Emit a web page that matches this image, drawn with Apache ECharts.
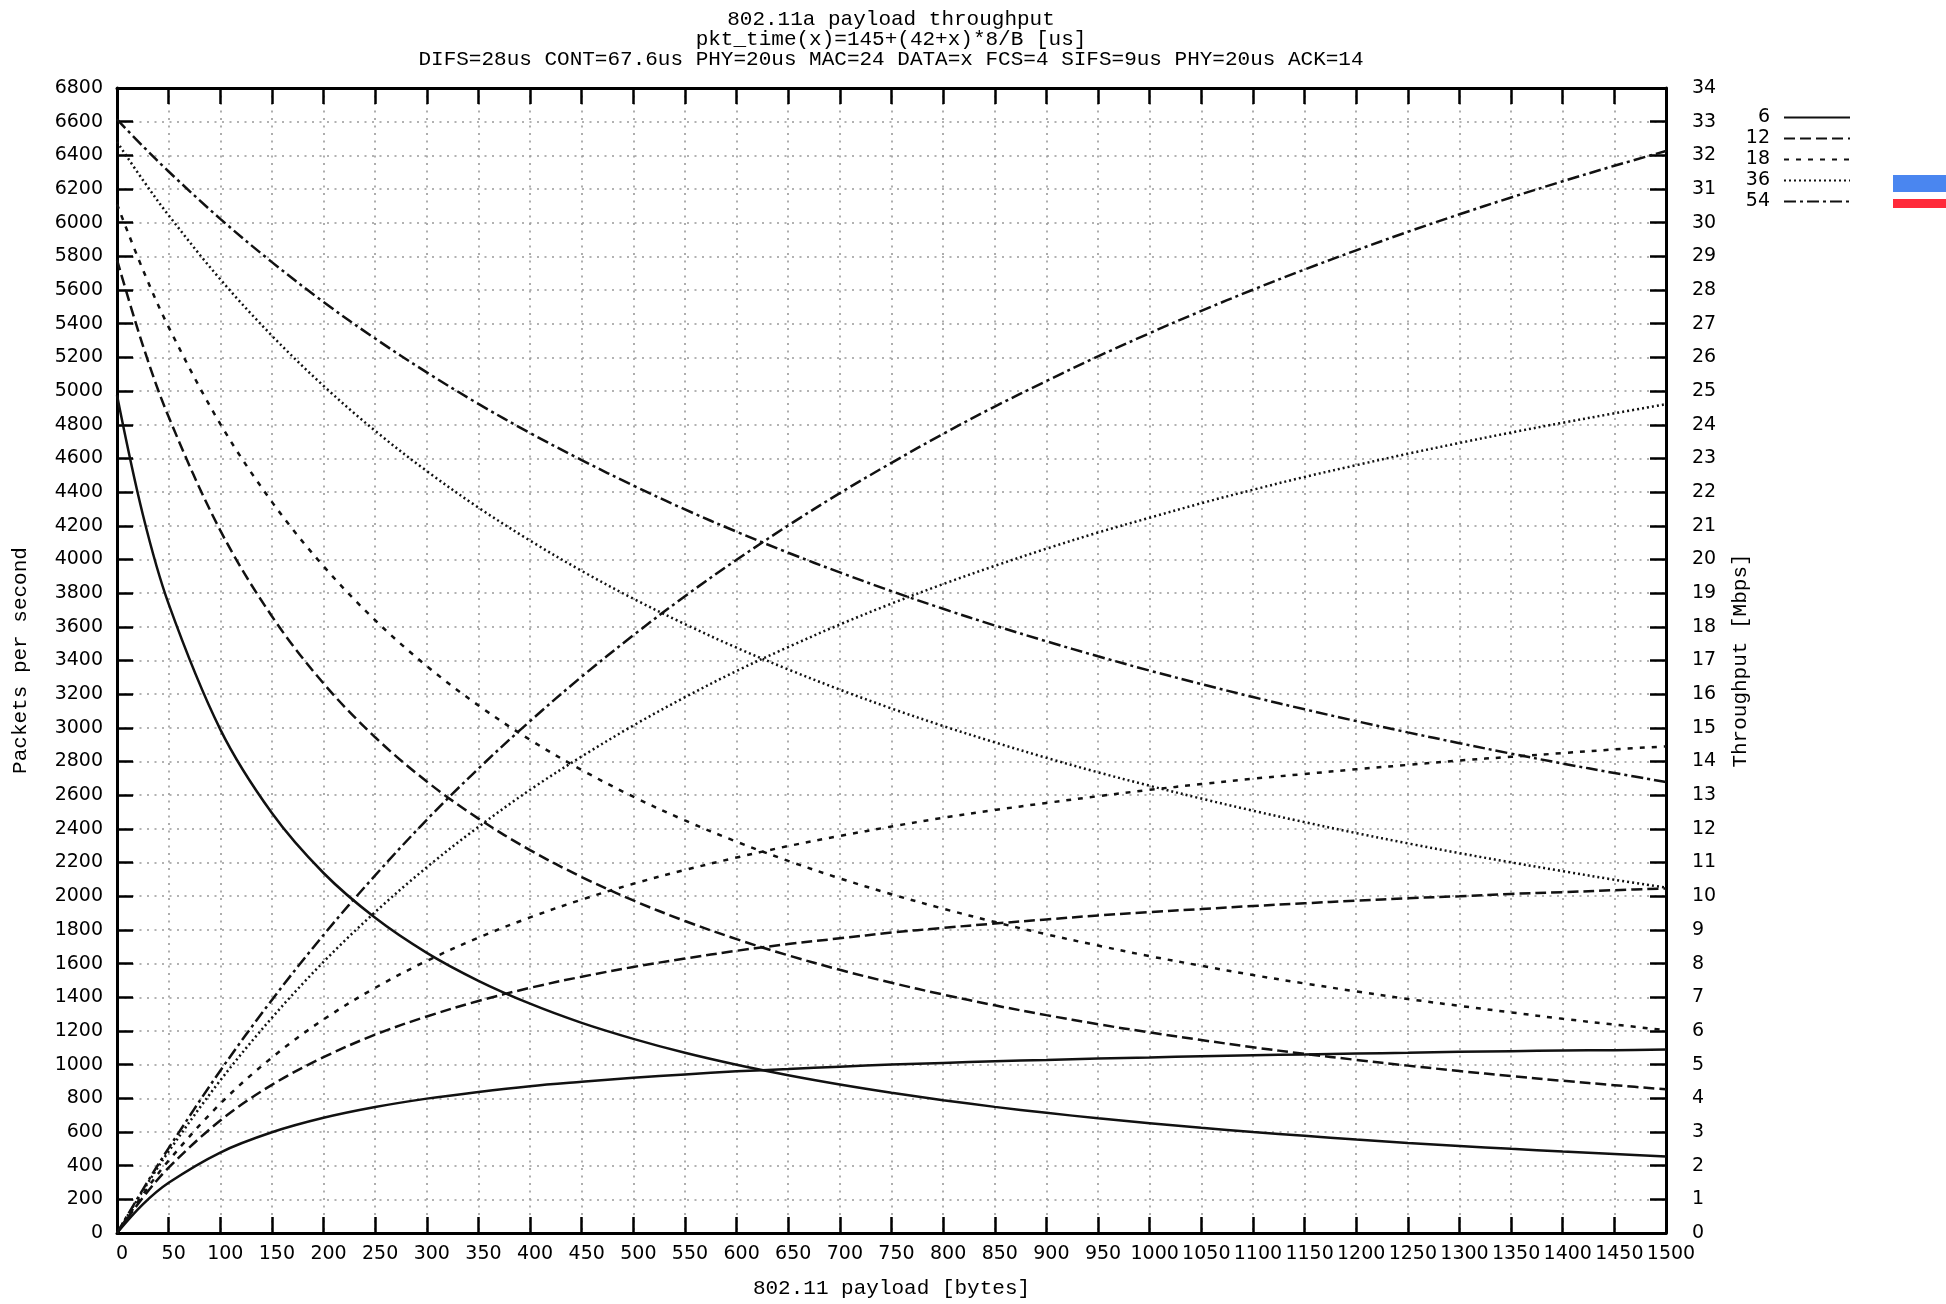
<!DOCTYPE html>
<html><head><meta charset="utf-8">
<script src="https://cdn.jsdelivr.net/npm/echarts@6/dist/echarts.min.js"></script>
<style>html,body{margin:0;padding:0;background:#fff}#c{width:1946px;height:1304px}</style>
</head><body><div id="c"></div>
<script>
// payload size in bytes (x axis)
const payloadBytes = [0,25,50,100,150,200,250,300,350,400,450,500,550,600,650,700,750,800,850,900,950,1000,1050,1100,1150,1200,1250,1300,1350,1400,1450,1500];
const rates = ['6','12','18','36','54'];
// packets per second (left axis)
const pps6  = [4975,4267,3736,2991,2494,2138,1872,1664,1498,1362,1248,1153,1070,999,937,882,833,789,749,714,681,652,625,600,577,555,535,517,500,484,469,454];
const pps12 = [5780,5272,4847,4173,3663,3264,2944,2681,2461,2274,2114,1975,1853,1745,1649,1563,1486,1416,1352,1294,1240,1191,1146,1103,1064,1028,994,962,932,904,878,853];
const pps18 = [6110,5722,5380,4805,4342,3960,3639,3367,3133,2929,2750,2591,2450,2324,2210,2106,2012,1926,1847,1774,1707,1644,1587,1532,1482,1435,1390,1349,1310,1272,1238,1204];
const pps36 = [6480,6254,6044,5664,5329,5031,4764,4525,4308,4112,3932,3767,3616,3476,3347,3227,3115,3011,2914,2822,2736,2656,2580,2508,2440,2375,2314,2256,2201,2149,2098,2051];
const pps54 = [6613,6455,6304,6023,5766,5529,5312,5111,4924,4751,4590,4439,4297,4165,4040,3923,3812,3707,3608,3514,3425,3340,3260,3183,3110,3040,2973,2909,2847,2788,2732,2678];
// throughput in Mbps (right axis)
const thr6  = [0,0.85,1.49,2.39,2.99,3.42,3.74,3.99,4.19,4.36,4.49,4.61,4.71,4.80,4.87,4.94,5.00,5.05,5.10,5.14,5.18,5.21,5.25,5.28,5.30,5.33,5.35,5.38,5.40,5.42,5.43,5.45];
const thr12 = [0,1.05,1.94,3.34,4.40,5.22,5.89,6.43,6.89,7.28,7.61,7.90,8.15,8.38,8.58,8.75,8.92,9.06,9.19,9.31,9.43,9.53,9.62,9.71,9.79,9.87,9.94,10.00,10.07,10.12,10.18,10.23];
const thr18 = [0,1.14,2.15,3.84,5.21,6.34,7.28,8.08,8.77,9.37,9.90,10.37,10.78,11.15,11.49,11.79,12.07,12.33,12.56,12.77,12.97,13.16,13.33,13.49,13.63,13.77,13.90,14.03,14.14,14.25,14.36,14.45];
const thr36 = [0,1.25,2.42,4.53,6.39,8.05,9.53,10.86,12.06,13.16,14.15,15.07,15.91,16.69,17.40,18.07,18.69,19.27,19.81,20.32,20.80,21.24,21.67,22.07,22.45,22.80,23.14,23.46,23.77,24.06,24.34,24.61];
const thr54 = [0,1.29,2.52,4.82,6.92,8.85,10.62,12.27,13.79,15.20,16.52,17.75,18.91,19.99,21.01,21.97,22.87,23.73,24.54,25.30,26.03,26.72,27.38,28.01,28.61,29.18,29.73,30.25,30.75,31.23,31.69,32.13];

const titleLines = ['802.11a payload throughput','pkt_time(x)=145+(42+x)*8/B [us]','DIFS=28us CONT=67.6us PHY=20us MAC=24 DATA=x FCS=4 SIFS=9us PHY=20us ACK=14'];

const mono = "'Liberation Mono','DejaVu Sans Mono',monospace";
const sans = "'DejaVu Sans',sans-serif";
const dashes = {'6':'solid','12':[11,5],'18':[5,7],'36':[2,3],'54':[12,4,3,4]};
function zip(ys){return payloadBytes.map((x,i)=>[x,ys[i]]);}
function mk(name, ys, yi){
  return {name:name, type:'line', xAxisIndex:0, yAxisIndex:yi, data:zip(ys), symbol:'none', showSymbol:false,
    smooth:0.35, clip:true,
    lineStyle:{color:'#111', width:2.5, type:dashes[name]}, itemStyle:{color:'#111'},
    emphasis:{disabled:true}};
}
const ppsSets = [pps6,pps12,pps18,pps36,pps54];
const thrSets = [thr6,thr12,thr18,thr36,thr54];
const series = [];
rates.forEach((r,i)=>{ series.push(mk(r, ppsSets[i], 0)); series.push(mk(r, thrSets[i], 1)); });

const plain = v => String(v);
const axisLine = {show:true, onZero:false, lineStyle:{color:'#000', width:3}};
const axisTick = {show:true, inside:true, length:16, lineStyle:{color:'#000', width:2.5}};
const gridLine = {show:true, lineStyle:{color:'#999', width:1.6, type:[2,5.5]}};

const chart = echarts.init(document.getElementById('c'), null, {renderer:'canvas'});
chart.setOption({
  animation:false,
  backgroundColor:'#fff',
  grid:{left:117, right:280, top:88, bottom:68, containLabel:false},
  legend:{data:rates, orient:'vertical', right:90, top:102, align:'right', itemWidth:66, itemHeight:21, itemGap:0,
    selectedMode:false, itemStyle:{opacity:0, borderWidth:0},
    textStyle:{fontFamily:sans, fontSize:19, color:'#000', lineHeight:21, padding:[0,9,0,0]}},
  xAxis:[
    {type:'value', min:0, max:1500, interval:50, position:'bottom',
     name:'802.11 payload [bytes]', nameLocation:'middle', nameGap:45,
     nameTextStyle:{fontFamily:mono, fontSize:21, color:'#000'},
     axisLine:axisLine, axisTick:axisTick,
     axisLabel:{fontFamily:sans, fontSize:19, color:'#000', margin:12, formatter:plain, padding:[0,0,0,10],
       showMinLabel:true, showMaxLabel:true, hideOverlap:false, interval:0},
     splitLine:gridLine},
    {type:'value', min:0, max:1500, interval:50, position:'top',
     axisLine:axisLine, axisTick:axisTick, axisLabel:{show:false}, splitLine:{show:false}}
  ],
  yAxis:[
    {type:'value', min:0, max:6800, interval:200, position:'left',
     name:'Packets per second', nameLocation:'middle', nameGap:86, nameRotate:90,
     nameTextStyle:{fontFamily:mono, fontSize:21, color:'#000'},
     axisLine:axisLine, axisTick:axisTick,
     axisLabel:{fontFamily:sans, fontSize:19, color:'#000', margin:14, formatter:plain},
     splitLine:gridLine},
    {type:'value', min:0, max:34, interval:1, position:'right',
     name:'Throughput [Mbps]', nameLocation:'middle', nameGap:64, nameRotate:90,
     nameTextStyle:{fontFamily:mono, fontSize:21, color:'#000'},
     axisLine:axisLine, axisTick:axisTick,
     axisLabel:{fontFamily:sans, fontSize:19, color:'#000', margin:26, formatter:plain},
     splitLine:{show:false}}
  ],
  graphic:[
    {type:'text', x:891, y:9, style:{text:titleLines.join('\n'), font:"21px 'Liberation Mono'", textAlign:'center', lineHeight:20, fill:'#000'}},
    {type:'rect', shape:{x:1893, y:175, width:53, height:17}, style:{fill:'#4a86f0'}},
    {type:'rect', shape:{x:1893, y:199, width:53, height:9}, style:{fill:'#ff2a3a'}}
  ],
  series:series
});
</script>
</body></html>
